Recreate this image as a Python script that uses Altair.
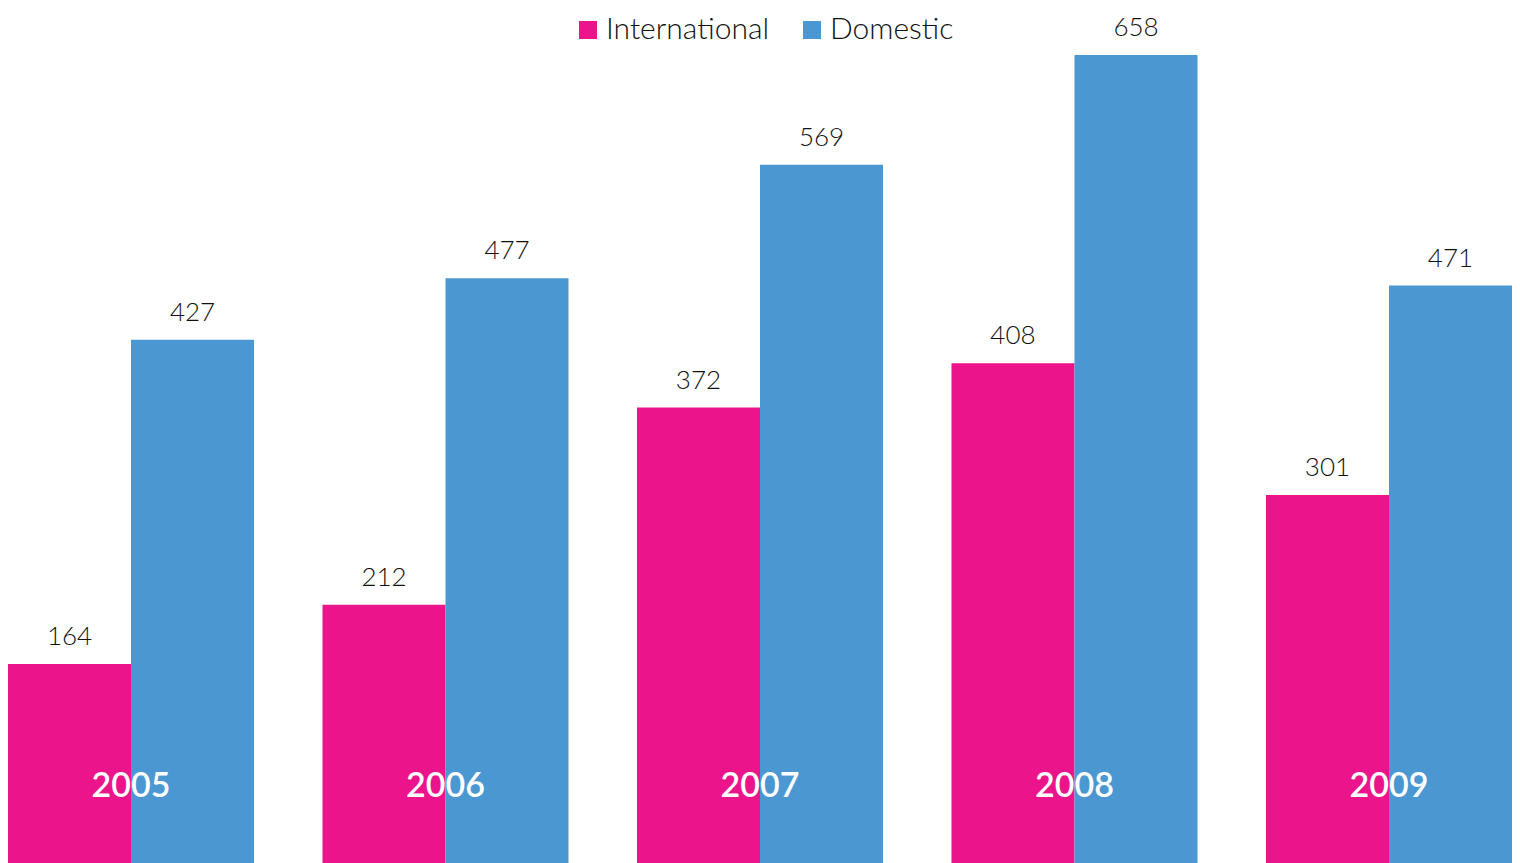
import altair as alt
import pandas as pd

years = ["2005", "2006", "2007", "2008", "2009"]
series = ["International", "Domestic"]
international = [164, 212, 372, 408, 301]
domestic = [427, 477, 569, 658, 471]
colors = ["#EC148A", "#4A97D1"]

rows = []
for i, y in enumerate(years):
    rows.append({"year": y, "series": "International", "value": international[i]})
    rows.append({"year": y, "series": "Domestic", "value": domestic[i]})
df = pd.DataFrame(rows)
df_years = pd.DataFrame({"year": years})

FONT = "Lato"

x_enc = alt.X("year:N", sort=years, axis=None,
              scale=alt.Scale(paddingInner=0.2178, paddingOuter=0, round=False))
xoff = alt.XOffset("series:N", sort=series,
                   scale=alt.Scale(domain=series, paddingInner=0, paddingOuter=0, round=False))
y_enc = alt.Y("value:Q", axis=None, scale=alt.Scale(domain=[9.1, 696.1], zero=False, nice=False))

bars = alt.Chart(df).mark_bar().encode(
    x=x_enc,
    xOffset=xoff,
    y=y_enc,
    color=alt.Color(
        "series:N",
        scale=alt.Scale(domain=series, range=colors),
        legend=alt.Legend(
            title=None, orient="none", legendX=565, legendY=7,
            direction="horizontal", symbolType="square", symbolSize=324,
            symbolStrokeWidth=0, labelFontSize=30, labelFont=FONT,
            labelFontWeight=300, labelLimit=400,
            labelColor="#111111", labelOffset=3, columnPadding=27,
            symbolOpacity=1,
        ),
    ),
)

labels = alt.Chart(df).mark_text(
    dy=-27, fontSize=26, font=FONT, color="#111111", baseline="middle", fontWeight=300
).encode(
    x=x_enc,
    xOffset=xoff,
    y=y_enc,
    text=alt.Text("value:Q"),
)

year_labels = alt.Chart(df_years).mark_text(
    fontSize=34, font=FONT, color="white", baseline="middle", fontWeight=600
).encode(
    x=alt.X("year:N", sort=years, axis=None,
            scale=alt.Scale(paddingInner=0.2178, paddingOuter=0, round=False)),
    y=alt.value(779),
    text="year:N",
)

chart = alt.layer(bars, labels, year_labels).properties(
    width=1504, height=847, padding=0
).configure_view(stroke=None)

chart.save("out.html", embed_options={"renderer": "svg", "actions": False})
